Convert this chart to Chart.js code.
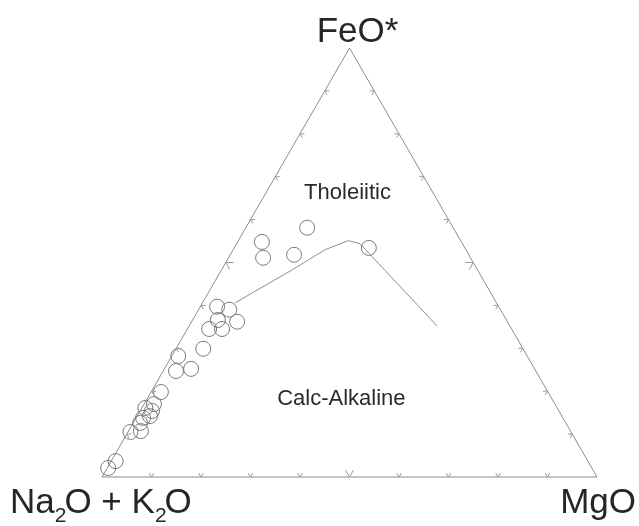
<!DOCTYPE html>
<html>
<head>
<meta charset="utf-8">
<script src="https://cdn.jsdelivr.net/npm/chart.js@4/dist/chart.umd.min.js"></script>
<style>
  html, body { margin: 0; padding: 0; background: #fff; }
</style>
</head>
<body>
<canvas id="afmChart" width="639" height="526"></canvas>
<script>
// AFM diagram, wt%
// A = Na2O + K2O, F = FeO*, M = MgO
const sampleA = [29.5, 40.3, 41.9, 35.3, 19.4, 56.9, 54.8, 58.3, 61.1, 58.5, 54.6, 64.6, 70.5,
                 72.7, 69.4, 78.2, 81.0, 83.2, 82.2, 84.8, 83.2, 86.0, 89.0, 86.8, 95.4, 97.7];
const sampleF = [58.1, 54.8, 51.1, 51.8, 53.4, 39.7, 39.0, 36.6, 34.5, 34.5, 36.2, 29.9, 28.2,
                 24.7, 25.2, 19.8, 17.0, 16.1, 15.4, 13.8, 14.2, 12.6, 10.5, 10.7, 3.7, 2.1];
const sampleM = [12.4, 4.9, 7.0, 12.9, 27.2, 3.4, 6.2, 5.1, 4.4, 7.0, 9.2, 5.5, 1.3,
                 2.6, 5.4, 2.0, 2.0, 0.7, 2.4, 1.4, 2.6, 1.4, 0.5, 2.5, 0.9, 0.2];

// tholeiitic / calc-alkaline boundary
const divideA = [52.8, 37.4, 28.4, 22.7, 20.7, 14.7];
const divideF = [40.6, 48.3, 53.0, 55.1, 54.4, 35.2];
const divideM = [6.6, 14.3, 18.6, 22.2, 24.9, 50.1];

// corners: A, F, M
const cornerA = [100, 0, 0, 100];
const cornerF = [0, 100, 0, 0];
const cornerM = [0, 0, 100, 0];

const tickPercents = [10, 20, 30, 40, 50, 60, 70, 80, 90];
const fieldLabels = ['Tholeiitic', 'Calc-Alkaline'];

const H = Math.sqrt(3) / 2;

function toXY(a, f, m) {
    const s = a + f + m;
    return { x: (m + f / 2) / s, y: (f / s) * H };
}

const samples = sampleA.map((a, i) => toXY(a, sampleF[i], sampleM[i]));
const divide = divideA.map((a, i) => toXY(a, divideF[i], divideM[i]));
const frame = cornerA.map((a, i) => toXY(a, cornerF[i], cornerM[i]));

// ticks, corner names and field names
const ternaryDecor = {
    id: 'ternaryDecor',
    afterDatasetsDraw(chart) {
        const c = chart.ctx;
        const xs = chart.scales.x;
        const ys = chart.scales.y;
        const px = (p) => ({ x: xs.getPixelForValue(p.x), y: ys.getPixelForValue(p.y) });

        c.save();
        c.strokeStyle = '#9a9a9a';
        c.lineWidth = 1;
        const chev = (p, d1, d2, len) => {
            c.beginPath();
            c.moveTo(p.x + d1[0] * len, p.y + d1[1] * len);
            c.lineTo(p.x, p.y);
            c.lineTo(p.x + d2[0] * len, p.y + d2[1] * len);
            c.stroke();
        };
        tickPercents.forEach(t => {
            const len = t === 50 ? 8 : 4.5;
            // base
            chev(px(toXY(100 - t, 0, t)), [-0.5, -0.866], [0.5, -0.866], len);
            // left edge
            chev(px(toXY(100 - t, t, 0)), [1, 0], [0.5, 0.866], len);
            // right edge
            chev(px(toXY(0, t, 100 - t)), [-1, 0], [-0.5, 0.866], len);
        });

        c.fillStyle = '#262626';
        c.textBaseline = 'alphabetic';

        // corner names
        const big = '35px "Liberation Sans", Arial, sans-serif';
        const sub = '21px "Liberation Sans", Arial, sans-serif';
        const apex = px(frame[1]);
        const left = px(frame[0]);
        const right = px(frame[2]);

        c.font = big;
        c.textAlign = 'center';
        c.fillText('FeO*', apex.x + 8, apex.y - 6);

        c.textAlign = 'right';
        c.fillText('MgO', right.x + 39, right.y + 36);

        // Na2O + K2O with subscripts
        c.textAlign = 'left';
        const parts = [['Na', big, 0], ['2', sub, 9], ['O + K', big, 0], ['2', sub, 9], ['O', big, 0]];
        let x = left.x - 92;
        const base = left.y + 36;
        parts.forEach(([txt, font, dy]) => {
            c.font = font;
            c.fillText(txt, x, base + dy);
            x += c.measureText(txt).width - (dy ? 2 : 0);
        });

        // field names
        c.font = '22px "Liberation Sans", Arial, sans-serif';
        c.fillStyle = '#2a2a2a';
        c.textAlign = 'center';
        c.textBaseline = 'middle';
        const th = px(toXY(17.3, 66.2, 16.5));
        c.fillText(fieldLabels[0], th.x, th.y);
        const ca = px(toXY(42.5, 18.3, 39.2));
        c.fillText(fieldLabels[1], ca.x, ca.y);
        c.restore();
    }
};

const ctx = document.getElementById('afmChart').getContext('2d');
const afmChart = new Chart(ctx, {
    type: 'scatter',
    data: {
        datasets: [
            {
                label: 'frame',
                data: frame,
                showLine: true,
                borderColor: '#8c8c8c',
                borderWidth: 1,
                pointRadius: 0,
                clip: false,
                order: 3
            },
            {
                label: 'divide',
                data: divide,
                showLine: true,
                borderColor: '#8c8c8c',
                borderWidth: 1,
                pointRadius: 0,
                clip: false,
                order: 2
            },
            {
                label: 'samples',
                data: samples,
                pointRadius: 7.5,
                pointBorderColor: '#7a7a7a',
                pointBackgroundColor: 'rgba(255, 255, 255, 0)',
                pointBorderWidth: 1,
                clip: false,
                order: 1
            }
        ]
    },
    options: {
        responsive: false,
        animation: false,
        layout: {
            padding: { left: 102, right: 42, top: 48, bottom: 49 }
        },
        scales: {
            x: { type: 'linear', min: 0, max: 1, display: false },
            y: { type: 'linear', min: 0, max: H, display: false }
        },
        plugins: {
            legend: { display: false },
            tooltip: { enabled: false }
        }
    },
    plugins: [ternaryDecor]
});
</script>
</body>
</html>
